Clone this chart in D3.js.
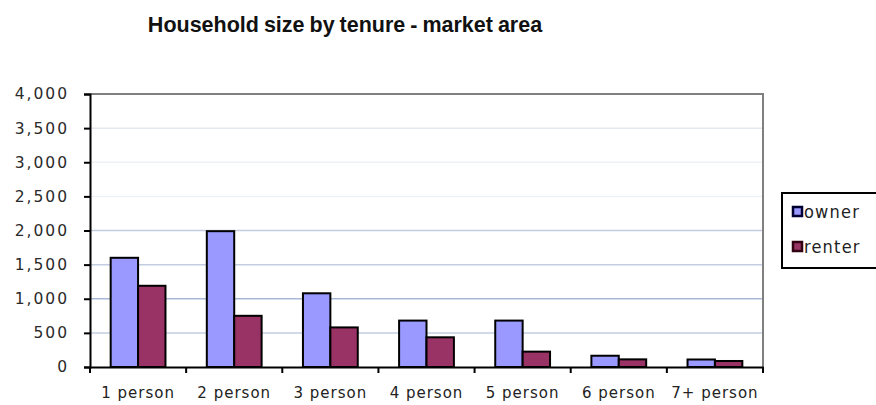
<!DOCTYPE html>
<html>
<head>
<meta charset="utf-8">
<script src="https://cdn.jsdelivr.net/npm/d3@7"></script>
<style>
  body { margin: 0; background: #fff; }
  svg { display: block; }
  .tick text { font-family: 'DejaVu Sans', sans-serif; }
</style>
</head>
<body>
<div id="chart"></div>
<script>
const categories = ['1 person', '2 person', '3 person', '4 person', '5 person', '6 person', '7+ person']
const seriesNames = ['owner', 'renter']
const owner = [1600, 1990, 1080, 680, 680, 165, 110]
const renter = [1190, 750, 580, 435, 225, 112, 88]
const yTicks = [0, 500, 1000, 1500, 2000, 2500, 3000, 3500, 4000]
const colors = { owner: '#9999ff', renter: '#993366' }

const width = 876
const height = 405
const margin = { top: 94, right: 113, bottom: 38, left: 90 }
const innerW = width - margin.left - margin.right
const innerH = height - margin.top - margin.bottom

const rows = categories.map((c, i) => ({ cat: c, owner: owner[i], renter: renter[i] }))

const svg = d3.select('#chart').append('svg').attr('width', width).attr('height', height)

svg.append('text')
  .attr('x', 345).attr('y', 32)
  .attr('text-anchor', 'middle')
  .attr('font-family', 'Liberation Sans, Arial, sans-serif')
  .attr('font-weight', 'bold')
  .attr('font-size', 21.5)
  .attr('word-spacing', -1)
  .attr('fill', '#111')
  .text('Household size by tenure - market area')

const g = svg.append('g').attr('transform', `translate(${margin.left},${margin.top})`)

const x = d3.scaleBand().domain(categories).range([0, innerW]).paddingInner(0.43).paddingOuter(0.215)
const xs = d3.scaleBand().domain(seriesNames).range([0, x.bandwidth()])
const y = d3.scaleLinear().domain([0, 4000]).range([innerH, 0])

// gridline shade, the scanned original shows them unevenly
function gridColor(v) {
  if (v === 1000) return '#a9b8d6'
  if (v === 2500 || v === 3000) return '#eef1f6'
  if (v === 3500) return '#e4e8f0'
  return '#c3cce0'
}

g.append('g')
  .selectAll('line')
  .data(yTicks.filter((d) => d > 0 && d < 4000))
  .join('line')
  .attr('x1', 0).attr('x2', innerW)
  .attr('y1', (d) => y(d)).attr('y2', (d) => y(d))
  .attr('stroke', (d) => gridColor(d))
  .attr('stroke-width', 1.5)

// top & right frame
g.append('path')
  .attr('d', `M0,${y(4000)}H${innerW}V${innerH}`)
  .attr('fill', 'none')
  .attr('stroke', '#808080')
  .attr('stroke-width', 2)

// bars
const groups = g.append('g')
  .selectAll('g')
  .data(rows)
  .join('g')
  .attr('transform', (d) => `translate(${x(d.cat)},0)`)

groups.selectAll('rect')
  .data((d) => seriesNames.map((k) => ({ key: k, value: d[k] })))
  .join('rect')
  .attr('x', (d) => xs(d.key))
  .attr('width', xs.bandwidth())
  .attr('y', (d) => y(d.value))
  .attr('height', (d) => innerH - y(d.value))
  .attr('fill', (d) => colors[d.key])
  .attr('stroke', '#000')
  .attr('stroke-width', 2)

// y axis
const yAxisG = g.append('g')
  .call(d3.axisLeft(y).tickValues(yTicks).tickSize(6).tickPadding(15).tickFormat(d3.format(',')))
yAxisG.select('.domain').attr('stroke', '#000').attr('stroke-width', 2)
yAxisG.selectAll('.tick line').attr('stroke', '#000').attr('stroke-width', 2)
yAxisG.selectAll('.tick text')
  .attr('font-size', 15.5)
  .attr('fill', '#2a2a2a')
  .attr('letter-spacing', 2)

// x axis: ticks at category boundaries
const xAxisG = g.append('g').attr('transform', `translate(0,${innerH})`)
  .call(d3.axisBottom(x).tickSize(0).tickPadding(20))
xAxisG.select('.domain').attr('stroke', '#000').attr('stroke-width', 2)
xAxisG.selectAll('.tick text')
  .attr('font-size', 15)
  .attr('fill', '#222')
  .attr('letter-spacing', 1)

const step = x.step()
xAxisG.append('g')
  .selectAll('line')
  .data(d3.range(categories.length + 1))
  .join('line')
  .attr('x1', (i) => i * step).attr('x2', (i) => i * step)
  .attr('y1', 0).attr('y2', 6)
  .attr('stroke', '#000')
  .attr('stroke-width', 2)

// legend
const legend = svg.append('g').attr('transform', 'translate(782,193)')
legend.append('rect')
  .attr('x', 0).attr('y', 0).attr('width', 100).attr('height', 75)
  .attr('fill', '#fff').attr('stroke', '#000').attr('stroke-width', 2)

const items = legend.selectAll('g.item')
  .data(seriesNames)
  .join('g')
  .attr('class', 'item')
  .attr('transform', (d, i) => `translate(11,${19 + i * 35})`)

items.append('rect')
  .attr('x', 0).attr('y', -5).attr('width', 9).attr('height', 9)
  .attr('fill', (d) => colors[d])
  .attr('stroke', (d) => (d === 'owner' ? '#000033' : '#330011'))
  .attr('stroke-width', 2.5)

items.append('text')
  .attr('x', 11).attr('y', 6)
  .attr('font-family', 'DejaVu Sans Condensed, DejaVu Sans, sans-serif')
  .attr('font-stretch', 'condensed')
  .attr('font-size', 18)
  .attr('letter-spacing', 1.2)
  .attr('fill', '#222')
  .text((d) => d)
</script>
</body>
</html>
